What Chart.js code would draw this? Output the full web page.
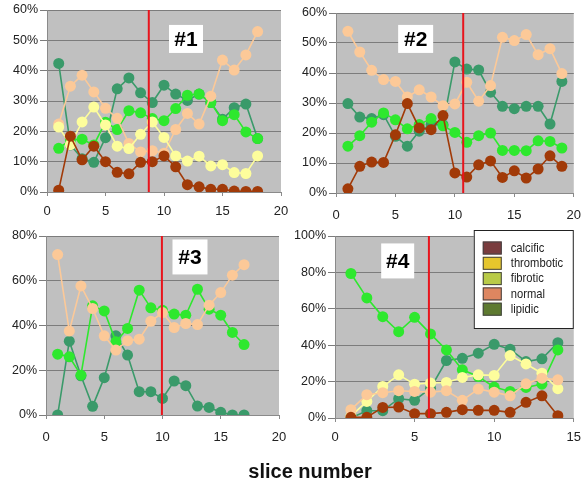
<!DOCTYPE html>
<html><head><meta charset="utf-8">
<script src="https://cdn.jsdelivr.net/npm/chart.js@4.4.0/dist/chart.umd.min.js"></script>
<style>
html,body{margin:0;padding:0;background:#fff}
body{width:581px;height:483px;overflow:hidden;position:relative;font-family:"Liberation Sans",Arial,sans-serif}
canvas{position:absolute;display:block}
#xtitle{position:absolute;left:200px;width:220px;text-align:center;top:459px;font-weight:bold;font-size:20px;line-height:24px;color:#111}
</style></head><body>
<canvas id="c1" width="290" height="215" style="left:0;top:0"></canvas>
<canvas id="c2" width="291" height="225" style="left:290px;top:0"></canvas>
<canvas id="c3" width="290" height="245" style="left:0;top:215px"></canvas>
<canvas id="c4" width="291" height="245" style="left:290px;top:215px"></canvas>
<div id="xtitle">slice number</div>
<script>
// ---- data (percent values, slice index starts at 1) ----
const p1_lipidic   = [42.4,15.5,11.0,9.8,17.9,34.0,37.6,32.7,29.5,35.2,32.3,30.2,32.3,29.5,24.0,27.8,29.0,17.6];
const p1_fibrotic  = [14.4,17.2,17.4,15.5,23.0,20.6,26.8,26.1,24.2,23.5,27.5,31.9,32.3,29.5,23.5,25.5,19.8,17.6];
const p1_normal    = [22.4,34.9,38.5,33.0,27.6,24.3,16.0,13.2,13.6,12.8,20.6,25.9,22.4,31.6,43.5,40.2,45.2,52.9];
const p1_thrombotic= [21.4,15.6,23.1,28.0,22.1,15.1,14.3,19.0,23.1,18.0,11.9,10.2,11.8,8.6,9.0,6.4,6.1,11.9];
const p1_calcific  = [0.6,18.4,10.6,15.1,10.0,6.5,6.0,9.8,10.0,11.9,8.3,2.4,1.7,0.9,0.9,0.3,0.2,0.2];

const p2_normal    = [53.9,47.0,40.9,37.8,37.2,32.0,34.4,32.0,29.1,29.7,36.9,30.6,35.8,51.9,50.8,52.8,46.1,48.1,39.8];
const p2_lipidic   = [29.8,25.3,24.8,26.1,18.9,15.6,20.6,22.8,22.8,43.7,41.3,41.0,33.6,28.9,28.1,28.9,28.9,23.0,37.2];
const p2_fibrotic  = [15.6,19.1,23.6,26.7,24.4,21.4,22.8,24.8,22.4,20.2,16.9,19.1,20.0,14.2,14.2,14.1,17.4,17.2,15.0];
const p2_calcific  = [1.4,8.9,10.3,10.2,19.4,29.8,21.7,21.1,25.8,6.7,5.3,9.4,10.7,5.2,7.4,5.0,8.0,12.4,8.9];

const p3_normal    = [71.7,37.5,57.7,47.6,35.4,29.0,33.2,33.9,41.9,45.8,39.1,40.9,40.4,49.1,54.7,62.5,67.2];
const p3_fibrotic  = [27.2,26.0,17.8,48.8,46.5,32.7,38.7,55.8,47.9,46.8,45.1,44.6,56.2,47.3,44.6,36.9,31.5];
const p3_lipidic   = [0.0,33.0,17.5,3.9,16.7,35.4,26.8,10.4,10.4,7.4,15.2,13.1,4.0,3.4,1.2,0.0,0.0];

const p4_fibrotic  = [79.4,66.0,55.7,47.4,55.3,46.2,37.4,26.5,22.8,17.0,14.6,16.8,18.6,37.4];
const p4_lipidic   = [0.0,4.0,4.0,10.6,9.7,16.4,31.6,32.8,35.6,40.5,37.8,31.0,32.5,41.4];
const p4_thrombotic= [1.0,9.1,17.3,23.7,18.6,19.2,19.5,22.3,23.7,23.4,34.3,29.7,24.6,16.1];
const p4_normal    = [4.6,12.8,13.9,15.0,14.6,14.2,15.0,9.7,15.9,14.2,12.2,18.8,21.9,21.0];
const p4_calcific  = [0.4,0.4,5.8,6.0,2.4,2.4,3.1,4.6,4.2,4.2,3.1,8.6,12.2,1.3];

const panelTags   = ["#1","#2","#3","#4"];
const dividerX    = [8.7,10.7,9.95,5.9];
const legendLabels= ["calcific","thrombotic","fibrotic","normal","lipidic"];
const legendColors= ["#7a3c3e","#e6c62c","#b9cb48","#de8660","#5e7a30"];

// ---- styling ----
const COL = {lipidic:"#3a9a6a", fibrotic:"#2ee82e", normal:"#fcc998", thrombotic:"#fdfd9c", calcific:"#a13a08"};
const FONT = "'Liberation Sans', Arial, sans-serif";

function ds(label, arr, color){
  return {label, data: arr.map((v,i)=>({x:i+1,y:v})), borderColor:color, backgroundColor:color,
    pointBackgroundColor:color, pointBorderColor:color, borderWidth:1.6, pointRadius:5.5, pointBorderWidth:0,
    pointHoverRadius:5.5, tension:0};
}

const panelPlugin = {
  id:'panel',
  beforeDraw(chart){
    const a = chart.chartArea, ctx = chart.ctx;
    ctx.save(); ctx.fillStyle = '#c0c0c0'; ctx.fillRect(a.left, a.top, a.right-a.left, a.bottom-a.top); ctx.restore();
  },
  afterDatasetsDraw(chart){
    const o = chart.options.plugins.panel, a = chart.chartArea, ctx = chart.ctx;
    const xs = chart.scales.x;
    const px = xs.getPixelForValue(o.divider);
    ctx.save();
    ctx.strokeStyle = '#e8141c'; ctx.lineWidth = 2;
    ctx.beginPath(); ctx.moveTo(px, a.top); ctx.lineTo(px, a.bottom); ctx.stroke();
    // tag box
    const cx = a.left + o.tagFx*(a.right-a.left), cy = a.top + o.tagFy*(a.bottom-a.top);
    const w = o.tagW, h = o.tagH;
    ctx.fillStyle = '#fff'; ctx.fillRect(cx-w/2, cy-h/2, w, h);
    ctx.fillStyle = '#000'; ctx.font = 'bold 21px ' + FONT; ctx.textAlign='center'; ctx.textBaseline='middle';
    ctx.fillText(o.tag, cx, cy+1);
    if (o.legend) {
      const lw = 100, lh = 99;
      const lx = a.right - o.legend.dr - lw, ly = a.top + o.legend.dt;
      ctx.fillStyle = '#fff'; ctx.fillRect(lx, ly, lw, lh);
      ctx.strokeStyle = '#222'; ctx.lineWidth = 1; ctx.strokeRect(lx+0.5, ly+0.5, lw-1, lh-1);
      ctx.font = '13.5px ' + FONT; ctx.textAlign='left'; ctx.textBaseline='middle';
      legendLabels.forEach((t,i)=>{
        const yy = ly + 18 + i*15.3;
        ctx.fillStyle = legendColors[i]; ctx.fillRect(lx+9, yy-6.5, 19, 13);
        ctx.strokeStyle = '#444'; ctx.strokeRect(lx+9.5, yy-6, 18, 12);
        ctx.save();
        ctx.translate(lx+37, yy); ctx.scale(0.83, 1);
        ctx.fillStyle = '#222'; ctx.fillText(t, 0, 0);
        ctx.restore();
      });
    }
    ctx.restore();
  }
};

function makeChart(id, datasets, cfg){
  return new Chart(document.getElementById(id), {
    type:'line',
    data:{datasets},
    plugins:[panelPlugin],
    options:{
      responsive:false, animation:false, devicePixelRatio:1,
      layout:{padding:{top:cfg.padTop, right:cfg.padRight, left:0, bottom:0}},
      plugins:{legend:{display:false}, tooltip:{enabled:false},
        panel:{divider:cfg.divider, tag:cfg.tag, tagFx:cfg.tagFx, tagFy:cfg.tagFy, tagW:cfg.tagW, tagH:cfg.tagH, legend:cfg.legend}},
      scales:{
        x:{type:'linear', min:0, max:cfg.xmax,
          ticks:{stepSize:5, padding:0, color:'#222', font:{family:FONT, size:13, lineHeight:cfg.xLH}},
          grid:{display:true, drawOnChartArea:false, drawTicks:true, tickLength:4, color:'#8a8a8a'},
          border:{display:true, color:'#8a8a8a', width:1},
          afterFit(s){ s.height = cfg.xH; }
        },
        y:{min:0, max:cfg.ymax,
          ticks:{stepSize:cfg.ystep, padding:2, color:'#222', font:{family:FONT, size:12.5}, callback:v=>v+'%'},
          grid:{color:'#7c7c7c', lineWidth:1, tickLength:7, drawTicks:true},
          border:{display:true, color:'#8a8a8a', width:1},
          afterFit(s){ s.width = cfg.yW; }
        }
      }
    }
  });
}

makeChart('c1', [
  ds('calcific', p1_calcific, COL.calcific),
  ds('thrombotic', p1_thrombotic, COL.thrombotic),
  ds('normal', p1_normal, COL.normal),
  ds('fibrotic', p1_fibrotic, COL.fibrotic),
  ds('lipidic', p1_lipidic, COL.lipidic)
], {xmax:20, ymax:60, ystep:10, divider:dividerX[0], tag:panelTags[0], tagFx:0.594, tagFy:0.159, tagW:34, tagH:28,
    padTop:10, padRight:9, yW:47, xH:23, xLH:2.3});

makeChart('c2', [
  ds('calcific', p2_calcific, COL.calcific),
  ds('normal', p2_normal, COL.normal),
  ds('fibrotic', p2_fibrotic, COL.fibrotic),
  ds('lipidic', p2_lipidic, COL.lipidic)
], {xmax:20, ymax:60, ystep:10, divider:dividerX[1], tag:panelTags[1], tagFx:0.335, tagFy:0.144, tagW:35, tagH:28,
    padTop:13, padRight:1, yW:46, xH:32, xLH:2.77});

makeChart('c3', [
  ds('normal', p3_normal, COL.normal),
  ds('fibrotic', p3_fibrotic, COL.fibrotic),
  ds('lipidic', p3_lipidic, COL.lipidic)
], {xmax:20, ymax:80, ystep:20, divider:dividerX[2], tag:panelTags[2], tagFx:0.618, tagFy:0.117, tagW:35, tagH:35,
    padTop:21, padRight:11, yW:46, xH:45, xLH:2.77});

makeChart('c4', [
  ds('calcific', p4_calcific, COL.calcific),
  ds('normal', p4_normal, COL.normal),
  ds('thrombotic', p4_thrombotic, COL.thrombotic),
  ds('fibrotic', p4_fibrotic, COL.fibrotic),
  ds('lipidic', p4_lipidic, COL.lipidic)
], {xmax:15, ymax:100, ystep:20, divider:dividerX[3], tag:panelTags[3], tagFx:0.2625, tagFy:0.137, tagW:33, tagH:35,
    legend:{dr:0, dt:-6},
    padTop:21, padRight:1, yW:45, xH:42, xLH:2.3});
</script>
</body></html>
